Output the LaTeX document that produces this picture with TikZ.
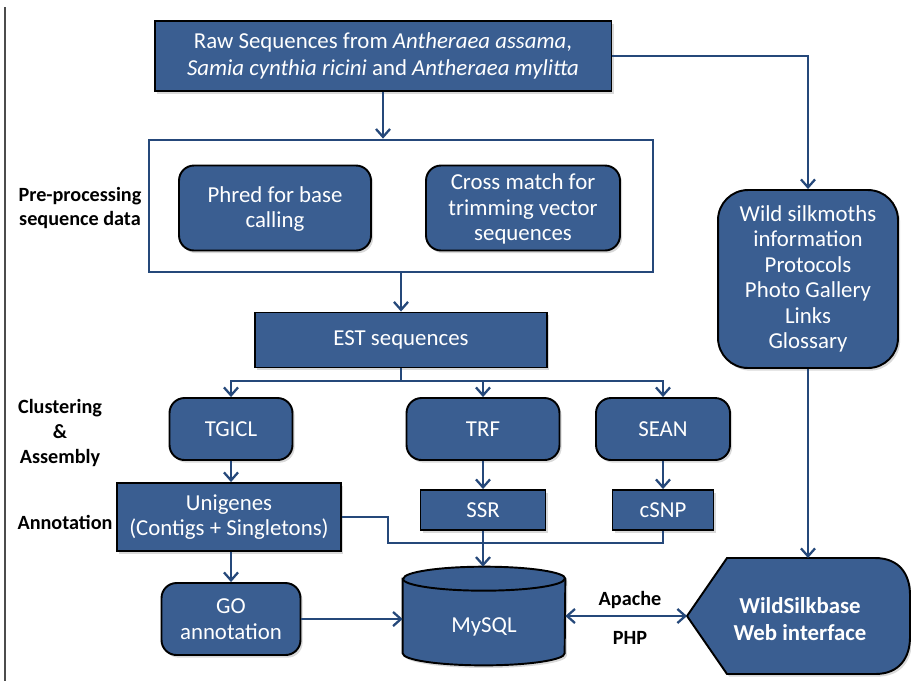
\documentclass[tikz,border=0pt]{standalone}
\usepackage{fontspec}
\setmainfont{Carlito}
\usetikzlibrary{positioning,arrows.meta,shadows}
\definecolor{boxblue}{HTML}{3A5E91}
\definecolor{lineblue}{HTML}{25487A}

\begin{document}
\begin{tikzpicture}[x=0.02cm,y=-0.02cm,>={Straight Barb[length=4.5pt,width=8pt]},
  every node/.style={font=\fontsize{13}{14.5}\selectfont},
  box/.style={draw=black,line width=1.1pt,fill=boxblue,text=white,align=center,inner sep=2pt,
    drop shadow={shadow xshift=1.2pt,shadow yshift=-1.5pt,opacity=0.3}},
  rbox/.style={box,rounded corners=0.3cm},
  lbl/.style={font=\fontsize{11.5}{14}\selectfont\bfseries,align=center},
  flow/.style={color=lineblue,line width=1.3pt}]
  \useasboundingbox (0,0) rectangle (911,681);
  \draw[black!70,line width=0.6pt] (5,7) -- (5,681);

  % top row
  \node[box,minimum width=9.14cm,minimum height=1.4cm,font=\fontsize{13}{15.3}\selectfont] (raw) at (383,56)
    {Raw Sequences from \textit{Antheraea assama},\\\textit{Samia cynthia ricini} and \textit{Antheraea mylitta}};
  \node[draw=lineblue,line width=1.6pt,fill=white,minimum width=10.08cm,minimum height=2.64cm] (pre) at (401,206) {};
  \node[rbox,minimum width=3.84cm,minimum height=1.7cm] (phred) at (275,208) {\strut Phred for base\\calling};
  \node[rbox,minimum width=3.88cm,minimum height=1.7cm] (cross) at (523,208) {\strut Cross match for\\trimming vector\\sequences};
  \node[lbl] (prelbl) at (80,208) {Pre-processing\\sequence data};

  % clustering
  \node[box,minimum width=5.84cm,minimum height=1.1cm] (est) at (401,340) {EST sequences};
  \node[rbox,minimum width=2.46cm,minimum height=1.24cm] (tgicl) at (231,429) {TGICL};
  \node[rbox,minimum width=3.06cm,minimum height=1.24cm] (trf) at (483,429) {TRF};
  \node[rbox,minimum width=2.68cm,minimum height=1.24cm] (sean) at (663,429) {SEAN};
  \node[lbl] (cluslbl) at (60,433) {Clustering\\\&\\Assembly};

  % annotation
  \node[box,minimum width=4.48cm,minimum height=1.36cm] (unig) at (229,517) {Unigenes\\(Contigs + Singletons)};
  \node[box,minimum width=2.5cm,minimum height=0.8cm] (ssr) at (483,510) {SSR};
  \node[box,minimum width=2.02cm,minimum height=0.8cm] (csnp) at (663,510) {cSNP};
  \node[lbl] (annlbl) at (65,522) {Annotation};
  \node[rbox,minimum width=2.78cm,minimum height=1.44cm] (go) at (231,619) {GO\\annotation};

  % database
  \node[minimum width=3.24cm,minimum height=1.96cm,inner sep=0pt] (mysql) at (484,616) {};
  \draw[box] ([yshift=-0.24cm]mysql.north west) -- ([yshift=0.24cm]mysql.south west)
    arc (180:360:1.62cm and 0.24cm) -- ([yshift=-0.24cm]mysql.north east)
    arc (0:180:1.62cm and 0.24cm) -- cycle;
  \draw[black,line width=1.1pt] ([yshift=-0.24cm]mysql.north west) arc (180:360:1.62cm and 0.24cm);
  \node[text=white] (mysqltxt) at (484,627) {MySQL};

  % web side
  \node[rbox,rounded corners=0.6cm,minimum width=3.6cm,minimum height=3.56cm] (info) at (808,279)
    {Wild silkmoths\\information\\Protocols\\Photo Gallery\\Links\\Glossary};
  \coordinate (webtip) at (687,616);
  \coordinate (webtop) at (808,558);
  \draw[box] (webtip) -- (727,558) -- (875,558) .. controls (900,558) and (910,575) .. (910,595)
    -- (910,637) .. controls (910,657) and (900,674) .. (875,674) -- (727,674) -- cycle;
  \node[text=white,font=\fontsize{13}{15.3}\selectfont\bfseries,align=center] (web) at (800,619) {WildSilkbase\\Web interface};
  \node[lbl] (apache) at (630,600) {Apache};
  \node[lbl] (php) at (630,638) {PHP};

  \coordinate (bus) at (401,381);
  \coordinate (jog) at (388,543);
  \path[flow,->]
    (raw.south) edge (raw.south |- pre.north)
    (pre.south) edge (est.north)
    (tgicl.south) edge (unig.north -| tgicl.south)
    (trf.south) edge (ssr.north)
    (sean.south) edge (csnp.north)
    (ssr.south) edge (ssr.south |- mysql.north)
    (unig.south -| go.north) edge (go.north)
    (go.east) edge (go.east -| mysql.west)
    (info.south) edge (webtop);
  \draw[flow] (est.south) -- (bus);
  \draw[flow,->] (bus) -| (tgicl.north);
  \draw[flow,->] (bus) -| (trf.north);
  \draw[flow,->] (bus) -| (sean.north);
  \draw[flow] (unig.east) -| (jog) -| (csnp.south);
  \draw[flow,->] (raw.east) -| (info.north);
  \draw[flow,<->] (mysql.east) -- (webtip);
\end{tikzpicture}
\end{document}
